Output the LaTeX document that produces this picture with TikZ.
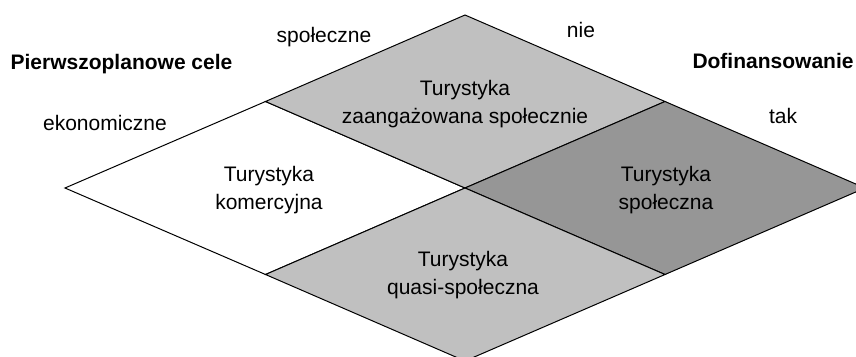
\documentclass[tikz,border=0pt]{standalone}
\usepackage{fontspec}
\setmainfont{Liberation Sans}
\definecolor{lightgr}{RGB}{192,192,192}
\definecolor{darkgr}{RGB}{150,150,150}
\begin{document}
\begin{tikzpicture}[x=1pt,y=-1pt,
  region/.style={draw=black,line width=1pt,line join=miter},
  lbl/.style={font=\fontsize{21}{28}\selectfont,inner sep=0pt,anchor=base},
  head/.style={font=\fontsize{21}{28}\selectfont\bfseries,inner sep=0pt,anchor=base},
  blk/.style={font=\fontsize{21}{28}\selectfont,inner sep=0pt,align=center,anchor=center}]
\useasboundingbox (0,0) rectangle (856,356);
\clip (0,0) rectangle (856,356);
\coordinate (L) at (65,188);
\coordinate (T) at (465,15);
\coordinate (R) at (865,188);
\coordinate (B) at (465,361);
\coordinate (UL) at (265.5,101.5);
\coordinate (UR) at (665,101.5);
\coordinate (LL) at (265.5,274.5);
\coordinate (LR) at (665,274.5);
\coordinate (C) at (465,188);
\filldraw[region,fill=white] (L) -- (UL) -- (C) -- (LL) -- cycle;
\filldraw[region,fill=lightgr] (UL) -- (T) -- (UR) -- (C) -- cycle;
\filldraw[region,fill=darkgr] (C) -- (UR) -- (R) -- (LR) -- cycle;
\filldraw[region,fill=lightgr] (LL) -- (C) -- (LR) -- (B) -- cycle;
\node[blk] (zaang) at (465,104.5) {Turystyka\\zaangażowana społecznie};
\node[blk] (komerc) at (269,190.5) {Turystyka\\komercyjna};
\node[blk] (spol) at (666,190.5) {Turystyka\\społeczna};
\node[blk] (quasi) at (463,275.5) {Turystyka\\quasi-społeczna};
\node[head] (cele) at (121.5,69) {Pierwszoplanowe cele};
\node[head] (dofin) at (773,68) {Dofinansowanie};
\node[lbl] (spolecz) at (324,42) {społeczne};
\node[lbl] (ekon) at (105,130) {ekonomiczne};
\node[lbl] (nie) at (581,37) {nie};
\node[lbl] (tak) at (783,123) {tak};
\end{tikzpicture}
\end{document}
